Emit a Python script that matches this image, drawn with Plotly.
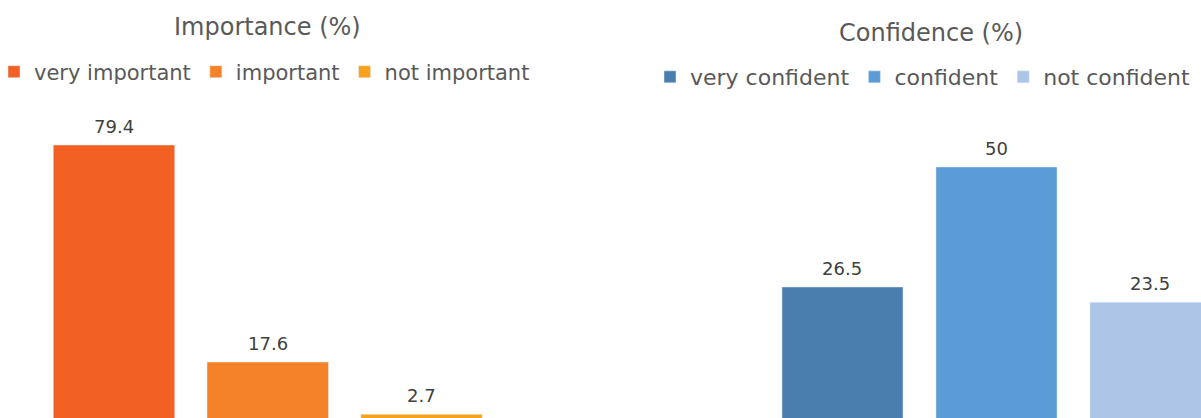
import plotly.graph_objects as go

W, H = 1201, 418

imp_labels = ["very important", "important", "not important"]
imp_values = [79.4, 17.6, 2.7]
imp_colors = ["#F26024", "#F58228", "#F7A21B"]

conf_labels = ["very confident", "confident", "not confident"]
conf_values = [26.5, 50, 23.5]
conf_colors = ["#4A7EAF", "#5B9BD6", "#ADC5E6"]

FONT = "DejaVu Sans"
TITLE_COLOR = "#595959"
LABEL_COLOR = "#404040"

fig = go.Figure()

for lab, val, col in zip(imp_labels, imp_values, imp_colors):
    fig.add_trace(go.Bar(
        x=[lab], y=[val], name=lab, marker_color=col, width=0.79,
        xaxis="x", yaxis="y", legend="legend", showlegend=True,
        hoverinfo="x+y",
    ))
    fig.add_annotation(x=lab, y=val, xref="x", yref="y", text=f"{val:g}",
                       showarrow=False, yanchor="bottom", yshift=6,
                       font=dict(family=FONT, size=18, color=LABEL_COLOR))

for lab, val, col in zip(conf_labels, conf_values, conf_colors):
    fig.add_trace(go.Bar(
        x=[lab], y=[val], name=lab, marker_color=col, width=0.786,
        xaxis="x2", yaxis="y2", legend="legend2", showlegend=True,
        hoverinfo="x+y",
    ))
    fig.add_annotation(x=lab, y=val, xref="x2", yref="y2", text=f"{val:g}",
                       showarrow=False, yanchor="bottom", yshift=6,
                       font=dict(family=FONT, size=18, color=LABEL_COLOR))

fig.add_annotation(text="Importance (%)", xref="paper", yref="paper",
                   x=267.5 / W, y=1 - 27 / H, xanchor="center", yanchor="middle",
                   showarrow=False, font=dict(family=FONT, size=24, color=TITLE_COLOR))
fig.add_annotation(text="Confidence (%)", xref="paper", yref="paper",
                   x=930.5 / W, y=1 - 33 / H, xanchor="center", yanchor="middle",
                   showarrow=False, font=dict(family=FONT, size=24, color=TITLE_COLOR))

axis_common = dict(showgrid=False, zeroline=False, showline=False,
                   showticklabels=False, ticks="", fixedrange=True)

fig.update_layout(
    width=W, height=H,
    margin=dict(l=0, r=0, t=0, b=0, autoexpand=False),
    paper_bgcolor="white", plot_bgcolor="white",
    barmode="overlay",
    xaxis=dict(domain=[0, 0.5], range=[-0.7415, 3.164], type="category",
               categoryorder="array", categoryarray=imp_labels, **axis_common),
    yaxis=dict(domain=[0, 1], range=[1.65, 120.7], anchor="x", **axis_common),
    xaxis2=dict(domain=[0.5, 1], range=[-1.5714, 2.328], type="category",
                categoryorder="array", categoryarray=conf_labels, anchor="y2", **axis_common),
    yaxis2=dict(domain=[0, 1], range=[0.84, 82.7], anchor="x2", **axis_common),
    legend=dict(orientation="h", x=-6 / W, xanchor="left", y=1 - 72 / H, yanchor="middle",
                font=dict(family=FONT, size=21, color=TITLE_COLOR),
                bgcolor="rgba(0,0,0,0)", traceorder="normal"),
    legend2=dict(orientation="h", x=650 / W, xanchor="left", y=1 - 77 / H, yanchor="middle",
                 font=dict(family=FONT, size=22, color=TITLE_COLOR),
                 bgcolor="rgba(0,0,0,0)", traceorder="normal"),
)

fig.write_html("out.html")
